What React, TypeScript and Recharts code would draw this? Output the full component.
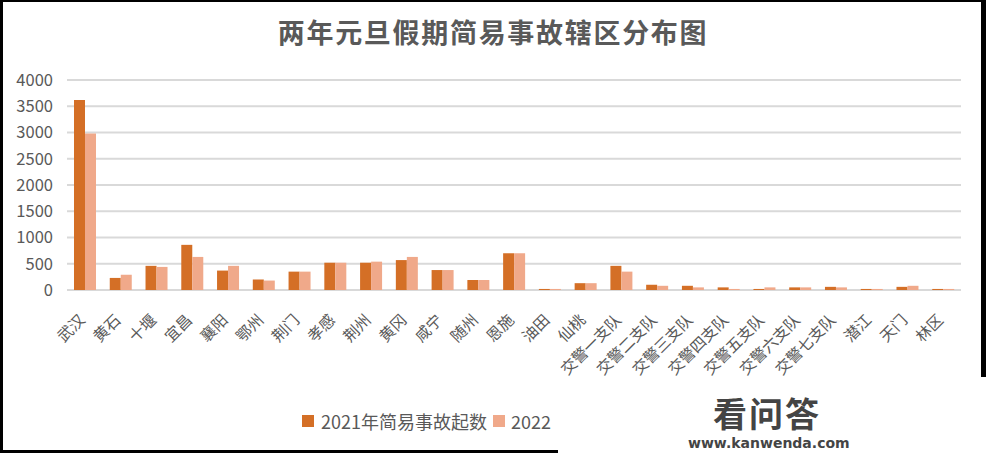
import React from 'react';
import { BarChart, Bar, XAxis, YAxis, CartesianGrid } from 'recharts';

// 辖区 categories and counts
const districts = [
  '武汉', '黄石', '十堰', '宜昌', '襄阳', '鄂州', '荆门', '孝感', '荆州', '黄冈',
  '咸宁', '随州', '恩施', '油田', '仙桃', '交警一支队', '交警二支队', '交警三支队',
  '交警四支队', '交警五支队', '交警六支队', '交警七支队', '潜江', '天门', '林区',
];
const cases2021 = [
  3620, 230, 460, 860, 370, 200, 350, 520, 520, 570,
  380, 190, 700, 20, 130, 460, 100, 80,
  50, 20, 50, 60, 20, 60, 20,
];
const cases2022 = [
  2980, 290, 440, 630, 460, 180, 350, 520, 540, 630,
  380, 190, 700, 20, 130, 350, 80, 50,
  20, 50, 50, 50, 20, 80, 20,
];
const yTicks = [0, 500, 1000, 1500, 2000, 2500, 3000, 3500, 4000];

const COLOR_2021 = '#D46F26';
const COLOR_2022 = '#F0A98A';
const TEXT = '#595959';
const FONT = '"Noto Sans CJK SC", "Noto Sans", sans-serif';

const data = districts.map((name, i) => ({
  name,
  y2021: cases2021[i],
  y2022: cases2022[i],
}));

const CategoryTick = (props: any) => {
  const { x, y, payload } = props;
  const ty = y + 29;
  return (
    <text
      x={x + 1}
      y={ty}
      transform={`rotate(-45, ${x + 1}, ${ty})`}
      textAnchor="end"
      fill={TEXT}
      fontSize={15.5}
      fontFamily={FONT}
    >
      {payload.value}
    </text>
  );
};

const App: React.FC = () => {
  return (
    <div style={{ position: 'absolute', left: 0, top: 0, width: 986, height: 453, background: '#fff', fontFamily: FONT, overflow: 'hidden' }}>
      {/* title */}
      <div
        style={{
          position: 'absolute', left: 0, top: 14, width: 986, textAlign: 'center',
          fontSize: 27, fontWeight: 'bold', color: TEXT, lineHeight: '36px', letterSpacing: 1.7,
        }}
      >
        两年元旦假期简易事故辖区分布图
      </div>

      <BarChart
        width={986}
        height={453}
        data={data}
        margin={{ top: 80, right: 25, bottom: 63, left: 0 }}
        barGap={0}
        style={{ position: 'absolute', left: 0, top: 0 }}
      >
        <CartesianGrid vertical={false} stroke="#D9D9D9" strokeWidth={2} />
        <XAxis
          dataKey="name"
          interval={0}
          tickLine={false}
          axisLine={false}
          tickSize={0}
          height={100}
          tick={<CategoryTick />}
        />
        <YAxis
          domain={[0, 4000]}
          ticks={yTicks}
          width={67}
          axisLine={false}
          tickLine={false}
          tickSize={0}
          tickMargin={14}
          tick={{ fill: TEXT, fontSize: 16.5, fontFamily: FONT }}
        />
        <Bar dataKey="y2021" fill={COLOR_2021} barSize={11} isAnimationActive={false} />
        <Bar dataKey="y2022" fill={COLOR_2022} barSize={11} isAnimationActive={false} />
      </BarChart>

      {/* legend */}
      <div style={{ position: 'absolute', left: 302, top: 408, display: 'flex', alignItems: 'center', fontSize: 18, color: TEXT, lineHeight: '26px' }}>
        <span style={{ width: 12, height: 12, background: COLOR_2021, display: 'inline-block', marginRight: 7 }} />
        <span style={{ marginRight: 6 }}>2021年简易事故起数</span>
        <span style={{ width: 12, height: 12, background: COLOR_2022, display: 'inline-block', marginRight: 6 }} />
        <span>2022</span>
      </div>

      {/* frame */}
      <div
        style={{
          position: 'absolute', left: 0, top: 0, width: 986, height: 453, boxSizing: 'border-box',
          borderTop: '2px solid #000', borderLeft: '3px solid #000', borderRight: '5px solid #000', borderBottom: '3px solid #000',
        }}
      />

      {/* watermark block */}
      <div style={{ position: 'absolute', left: 558, top: 377, width: 428, height: 76, background: '#fff' }}>
        <div style={{ position: 'absolute', left: 155, top: 18, fontSize: 34, fontWeight: 'bold', color: '#444', lineHeight: '36px', letterSpacing: 2 }}>
          看问答
        </div>
        <div style={{ position: 'absolute', left: 130, top: 58, fontSize: 14, fontWeight: 'bold', color: '#444', lineHeight: '16px', fontFamily: '"DejaVu Sans", sans-serif' }}>
          www.kanwenda.com
        </div>
      </div>
    </div>
  );
};

export default App;
